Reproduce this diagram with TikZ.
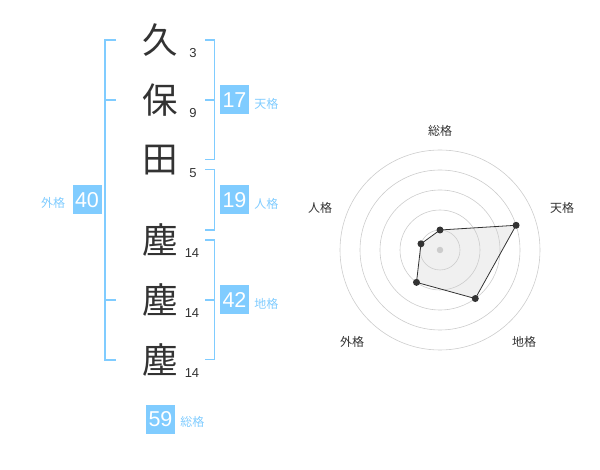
\documentclass[tikz,border=0pt]{standalone}
\usepackage{fontspec}
\setmainfont{Liberation Sans}
\newfontfamily\jp{Noto Sans CJK JP}
\usetikzlibrary{positioning}
\definecolor{kakublue}{RGB}{128,204,255}
\definecolor{kanjigray}{RGB}{51,51,51}

\begin{document}
\begin{tikzpicture}[x=1pt,y=-1pt,
	kanji/.style={text=kanjigray,inner sep=0pt,font=\jp\fontsize{35.5}{35.5}\selectfont},
	strokenum/.style={text=kanjigray,inner sep=0pt,font=\fontsize{13}{13}\selectfont},
	kakubox/.style={fill=kakublue,text=white,minimum size=29pt,inner sep=0pt,font=\fontsize{21.5}{21.5}\selectfont},
	kakulabel/.style={text=kakublue,inner sep=0pt,font=\jp\fontsize{12}{12}\selectfont},
	bracket/.style={draw=kakublue,line width=1.6pt},
	ring/.style={draw=black!20,line width=0.6pt},
	dot/.style={circle,fill=kanjigray,inner sep=0pt,minimum size=7pt},
	axislabel/.style={text=kanjigray,inner sep=0pt,font=\jp\fontsize{12}{12}\selectfont}]
	\useasboundingbox (0,0) rectangle (600,470);

	% name
	\node[kanji] (kyu) at (160,40) {久};
	\node[kanji] (ho) at (160,100) {保};
	\node[kanji] (ta) at (160,160) {田};
	\node[kanji] (chiri1) at (160,240) {塵};
	\node[kanji] (chiri2) at (160,300) {塵};
	\node[kanji] (chiri3) at (160,360) {塵};
	\node[strokenum] (n1) at (193,53) {3};
	\node[strokenum] (n2) at (193,113) {9};
	\node[strokenum] (n3) at (193,173) {5};
	\node[strokenum] (n4) at (192,253) {14};
	\node[strokenum] (n5) at (192,313) {14};
	\node[strokenum] (n6) at (192,373) {14};

	% brackets
	\draw[bracket] (116,40) -- (105,40) -- (105,360) -- (116,360) (105,100) -- (116,100) (105,300) -- (116,300);
	\draw[bracket] (205,40) -- (214.5,40) -- (214.5,159.5) -- (205,159.5) (205,100) -- (214.5,100);
	\draw[bracket] (205,169.5) -- (214.5,169.5) -- (214.5,230) -- (205,230);
	\draw[bracket] (205,240) -- (214.5,240) -- (214.5,359.5) -- (205,359.5) (205,300) -- (214.5,300);

	% kaku
	\node[kakubox] (gai) at (87,200) {40};
	\node[kakulabel,left=7pt of gai,yshift=-3pt] (gai-l) {外格};
	\node[kakubox] (ten) at (234.5,100) {17};
	\node[kakulabel,right=5pt of ten,yshift=-4pt] (ten-l) {天格};
	\node[kakubox] (jin) at (234.5,200) {19};
	\node[kakulabel,right=5pt of jin,yshift=-4pt] (jin-l) {人格};
	\node[kakubox] (chi) at (234.5,300) {42};
	\node[kakulabel,right=5pt of chi,yshift=-4pt] (chi-l) {地格};
	\node[kakubox] (so) at (160.5,419) {59};
	\node[kakulabel,right=5pt of so,yshift=-3pt] (so-l) {総格};

	% chart
	\begin{scope}[shift={(440,250)},y=1pt]
		\coordinate (p-so) at (90:20);
		\coordinate (p-ten) at (18:80);
		\coordinate (p-chi) at (-54:60);
		\coordinate (p-gai) at (-126:40);
		\coordinate (p-jin) at (162:20);
		\fill[black,fill opacity=0.06] (p-so) -- (p-ten) -- (p-chi) -- (p-gai) -- (p-jin) -- cycle;
		\foreach \r in {20,40,60,80,100}
			\draw[ring] (0,0) circle[radius=\r];
		\draw[kanjigray,line width=0.8pt] (p-so) -- (p-ten) -- (p-chi) -- (p-gai) -- (p-jin) -- cycle;
		\node[circle,fill=black!20,inner sep=0pt,minimum size=6.5pt] (mid) at (0,0) {};
		\foreach \p in {so,ten,chi,gai,jin}
			\node[dot] (d-\p) at (p-\p) {};
		\node[axislabel] (a-so) at (0,119) {総格};
		\node[axislabel] (a-ten) at (122,42) {天格};
		\node[axislabel] (a-jin) at (-120,42) {人格};
		\node[axislabel] (a-gai) at (-88,-92) {外格};
		\node[axislabel] (a-chi) at (84,-92) {地格};
	\end{scope}
\end{tikzpicture}
\end{document}
